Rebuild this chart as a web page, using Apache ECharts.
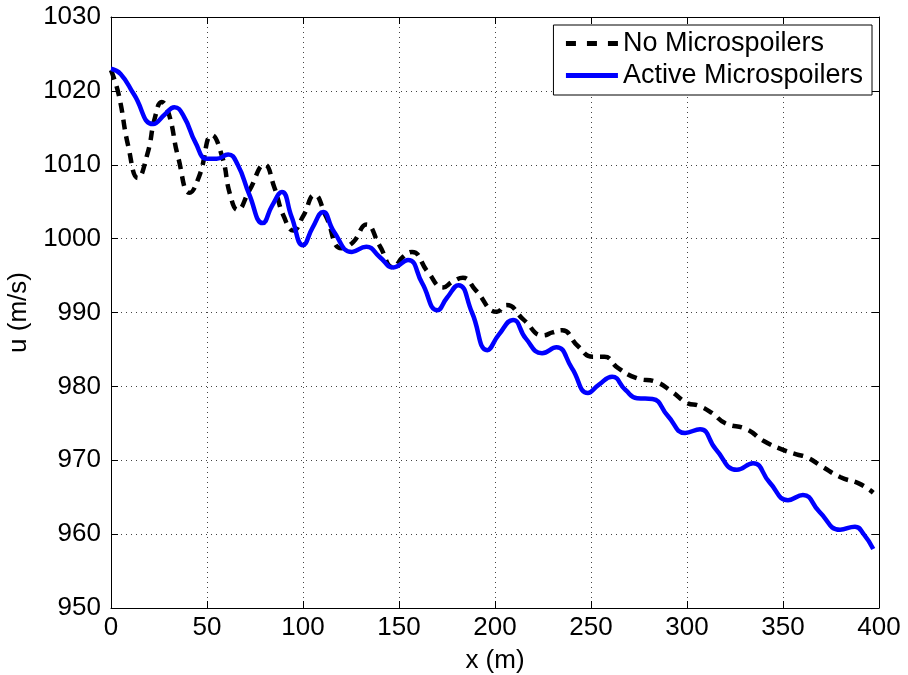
<!DOCTYPE html>
<html>
<head>
<meta charset="utf-8">
<script src="https://cdn.jsdelivr.net/npm/echarts@6/dist/echarts.min.js"></script>
<style>
  html, body { margin: 0; padding: 0; background: #fff; }
  #chart { width: 908px; height: 675px; }
</style>
</head>
<body>
<div id="chart"></div>
<script>
// Velocity along the trajectory, with and without microspoilers
const seriesNames = ['No Microspoilers', 'Active Microspoilers'];

const noSpoilerX = [0, 4, 9, 14, 19, 23, 26.4, 30, 35, 41, 46, 52.6, 58, 62, 66, 72, 80, 85, 90, 95,
  100, 106, 112, 120, 126, 133, 140, 147, 152, 156.8, 165, 173, 178, 183.3, 190, 201, 206, 215,
  225, 230, 235, 243, 251, 257, 264, 274, 284, 292, 300.5, 306, 313, 320, 331, 340, 350, 357,
  362.5, 370, 380, 390, 397];
const noSpoilerU = [1022.8, 1019.5, 1012.5, 1008.2, 1011.5, 1016.5, 1018.5, 1017, 1011, 1006.2,
  1008.5, 1014.0, 1011, 1006, 1003.9, 1006.5, 1010.0, 1007, 1003, 1001.1, 1003, 1005.9, 1003,
  998.7, 999.5, 1001.9, 999, 996.1, 997.5, 998.2, 995.5, 993.4, 994.2, 994.7, 993, 990.1, 991.0,
  989, 986.9, 987.3, 987.6, 985.5, 984.0, 984.0, 982.5, 981.1, 980.6, 979.3, 977.7, 977.4, 976.4,
  975.0, 974.2, 972.6, 971.4, 970.8, 970.4, 969.2, 967.7, 966.8, 965.6];

const activeX = [0, 5, 12, 22, 28, 33, 38, 44, 50, 55, 61, 66, 72, 79, 84, 89, 94, 100, 105, 110.5,
  116, 125.5, 133, 140, 147, 154.7, 162, 170, 175, 181, 188, 196, 202, 209.4, 216, 224.5, 232,
  240, 248.4, 254, 261, 268, 274, 282, 290, 299, 306.8, 315, 326, 334.4, 343, 352.6, 360.4, 369,
  379.7, 387.5, 392, 397];
const activeU = [1023.0, 1022.3, 1019.5, 1015.5, 1016.8, 1017.8, 1016.5, 1013.0, 1010.8, 1010.8,
  1011.4, 1010.0, 1006.0, 1002.1, 1004.5, 1006.3, 1003.0, 999.1, 1001.5, 1003.6, 1001.0, 998.2,
  998.9, 997.5, 996.1, 997.1, 994.0, 990.3, 992.0, 993.7, 990.0, 984.9, 987.0, 989.0, 986.5,
  984.5, 985.3, 982.5, 979.1, 980.2, 981.3, 979.5, 978.4, 978.3, 976.0, 973.7, 974.2, 971.5,
  968.7, 969.6, 967.0, 964.6, 965.3, 963.0, 960.6, 961.0, 960.0, 958.0];

const xTicks = { min: 0, max: 400, interval: 50 };
const yTicks = { min: 950, max: 1030, interval: 10 };

const pairs = (xs, ys) => xs.map((x, i) => [x, ys[i]]);

const font = "'Liberation Sans', Arial, Helvetica, sans-serif";
const fs = 26;

const chart = echarts.init(document.getElementById('chart'), null, { renderer: 'canvas' });

const frameLine = { show: true, onZero: false, lineStyle: { color: '#000', width: 1 } };
const inTick = { show: true, inside: true, length: 7, lineStyle: { color: '#000', width: 1 } };
const dotted = { show: true, lineStyle: { color: '#444', width: 1, type: [1, 4] } };
const plain = v => String(v);

chart.setOption({
  animation: false,
  backgroundColor: '#fff',
  textStyle: { fontFamily: font, color: '#000' },
  grid: { left: 111, top: 17, right: 29, bottom: 67, containLabel: false, outerBoundsMode: 'none' },
  legend: {
    orient: 'vertical',
    right: 36,
    top: 25,
    itemWidth: 52,
    itemHeight: 14,
    itemGap: 5,
    padding: [5, 9, 6, 10],
    borderColor: '#000',
    borderWidth: 1,
    backgroundColor: '#fff',
    itemStyle: { opacity: 0 },
    lineStyle: { width: 5 },
    textStyle: { fontFamily: font, fontSize: 27, color: '#000' },
    data: [
      { name: seriesNames[0], lineStyle: { width: 5, type: [10, 11] } },
      { name: seriesNames[1] }
    ]
  },
  xAxis: [
    {
      type: 'value', position: 'bottom', ...xTicks,
      name: 'x (m)', nameLocation: 'middle', nameGap: 40,
      nameTextStyle: { fontFamily: font, fontSize: fs, color: '#000' },
      axisLine: frameLine, axisTick: inTick, splitLine: dotted,
      axisLabel: { fontFamily: font, fontSize: fs, color: '#000', margin: 7, formatter: plain }
    },
    {
      type: 'value', position: 'top', ...xTicks,
      axisLine: frameLine, axisTick: inTick, splitLine: { show: false },
      axisLabel: { show: false }
    }
  ],
  yAxis: [
    {
      type: 'value', position: 'left', ...yTicks,
      name: 'u (m/s)', nameLocation: 'middle', nameGap: 73,
      nameTextStyle: { fontFamily: font, fontSize: fs, color: '#000' },
      axisLine: frameLine, axisTick: inTick, splitLine: dotted,
      axisLabel: { fontFamily: font, fontSize: fs, color: '#000', margin: 10, formatter: plain }
    },
    {
      type: 'value', position: 'right', ...yTicks,
      axisLine: frameLine, axisTick: inTick, splitLine: { show: false },
      axisLabel: { show: false }
    }
  ],
  series: [
    {
      name: seriesNames[0],
      type: 'line',
      data: pairs(noSpoilerX, noSpoilerU),
      smooth: 0.5,
      symbol: 'none',
      z: 3,
      color: '#000',
      lineStyle: { color: '#000', width: 4.5, type: [10, 7] }
    },
    {
      name: seriesNames[1],
      type: 'line',
      data: pairs(activeX, activeU),
      smooth: 0.5,
      symbol: 'none',
      z: 4,
      color: '#0000ff',
      lineStyle: { color: '#0000ff', width: 4.5 }
    }
  ]
});
</script>
</body>
</html>
